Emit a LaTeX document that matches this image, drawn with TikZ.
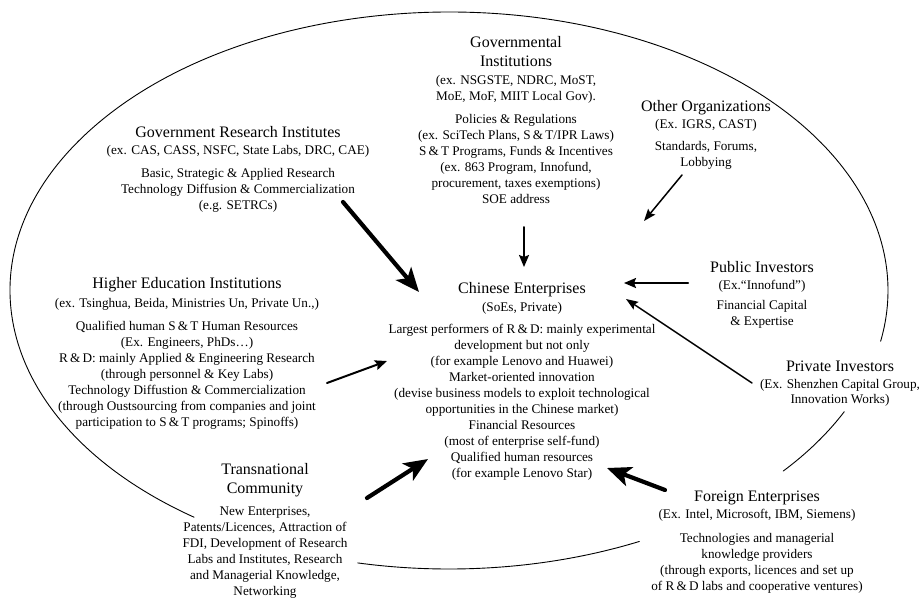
\documentclass[tikz,border=0pt]{standalone}
\usepackage{fontspec}
\setmainfont{Liberation Serif}
\usetikzlibrary{arrows.meta}
\newcommand{\blkhead}{\fontsize{16}{18}\selectfont}
\newcommand{\SnT}{S\,\&\,T}
\newcommand{\RnD}{R\,\&\,D}
\begin{document}
\begin{tikzpicture}[x=1pt, y=-1pt, line join=round, line cap=round,
	font=\fontsize{13.2}{16}\selectfont,
	blk/.style={align=center, anchor=north, inner sep=0pt},
	rim/.style={line width=0.9pt},
	heavy/.style={line width=4.2pt, -{Stealth[length=24pt, width=20pt, inset=6pt]}},
	medium/.style={line width=2pt, -{Stealth[length=12pt, width=10pt, inset=2pt]}},
	light/.style={line width=1.5pt, -{Stealth[length=12pt, width=9pt, inset=2pt]}}]
	\useasboundingbox (0,0) rectangle (920,597);
	\path (449,290.5) coordinate (O);
	% outline, broken where the outer blocks sit on it
	\foreach \s/\e in {125.5/370.5, 25.8/40.4, 64.3/102}
		\draw[rim] (O) ++(\s:439 and 278.5) arc[start angle=\s, end angle=\e, x radius=439, y radius=278.5];
	
	\node[blk] (gov) at (516,36) {{\blkhead Governmental}\\[3pt]{\blkhead Institutions}\\[2pt]
		(ex. NSGSTE, NDRC, MoST,\\ MoE, MoF, MIIT Local Gov).\\[7pt]
		Policies \& Regulations\\ (ex. SciTech Plans, \SnT/IPR Laws)\\
		\SnT\ Programs, Funds \& Incentives\\ (ex. 863 Program, Innofund,\\
		procurement, taxes exemptions)\\ SOE address};
	\node[blk] (gri) at (238,126) {{\blkhead Government Research Institutes}\\[1pt]
		(ex. CAS, CASS, NSFC, State Labs, DRC, CAE)\\[7pt]
		Basic, Strategic \& Applied Research\\ Technology Diffusion \& Commercialization\\ (e.g. SETRCs)};
	\node[blk] (oth) at (706,100) {{\blkhead Other Organizations}\\[1pt] (Ex. IGRS, CAST)\\[6pt]
		Standards, Forums,\\ Lobbying};
	\node[blk] (hei) at (187,277) {{\blkhead Higher Education Institutions}\\[3pt]
		(ex. Tsinghua, Beida, Ministries Un, Private Un.,)\\[7pt]
		Qualified human \SnT\ Human Resources\\ (Ex. Engineers, PhDs…)\\
		\RnD: mainly Applied \& Engineering Research\\ (through personnel \& Key Labs)\\
		Technology Diffustion \& Commercialization\\ (through Oustsourcing from companies and joint\\
		participation to \SnT\ programs; Spinoffs)};
	\node[blk] (ce) at (522,282) {{\blkhead Chinese Enterprises}\\[2pt] (SoEs, Private)\\[6pt]
		Largest performers of \RnD: mainly experimental\\ development but not only\\
		(for example Lenovo and Huawei)\\ Market-oriented innovation\\
		(devise business models to exploit technological\\ opportunities in the Chinese market)\\
		Financial Resources\\ (most of enterprise self-fund)\\ Qualified human resources\\
		(for example Lenovo Star)};
	\node[blk] (pub) at (762,261) {{\blkhead Public Investors}\\[1pt] (Ex.“Innofund”)\\[4pt]
		Financial Capital\\ \& Expertise};
	\node[blk] (priv) at (840,361) {{\blkhead Private Investors}\\[1pt]
		(Ex. Shenzhen Capital Group,\\[-1pt] Innovation Works)};
	\node[blk] (tc) at (265,463) {{\blkhead Transnational}\\[3pt]{\blkhead Community}\\[6pt]
		New Enterprises,\\ Patents/Licences, Attraction of\\ FDI, Development of Research\\
		Labs and Institutes, Research\\ and Managerial Knowledge,\\ Networking};
	\node[blk] (fe) at (757,491) {{\blkhead Foreign Enterprises}\\[1pt]
		(Ex. Intel, Microsoft, IBM, Siemens)\\[8pt]
		Technologies and managerial\\ knowledge providers\\
		(through exports, licences and set up\\ of \RnD\ labs and cooperative ventures)};
	
	\path (343,202) coordinate (gri-out) (419,292) coordinate (ce-gri)
		(367,498) coordinate (tc-out) (428,459) coordinate (ce-tc)
		(665,490) coordinate (fe-out) (607,468) coordinate (ce-fe)
		(524,227) coordinate (gov-out) (524,267) coordinate (ce-gov)
		(682,175) coordinate (oth-out) (644,221) coordinate (ce-oth)
		(688,283) coordinate (pub-out) (624,283) coordinate (ce-pub)
		(752,383) coordinate (priv-out) (626,299) coordinate (ce-priv)
		(327,383) coordinate (hei-out) (387,361) coordinate (ce-hei);
	\foreach \a/\b in {gri-out/ce-gri, tc-out/ce-tc, fe-out/ce-fe}
		\draw[heavy] (\a) -- (\b);
	\foreach \a/\b in {hei-out/ce-hei, pub-out/ce-pub, gov-out/ce-gov}
		\draw[medium] (\a) -- (\b);
	\foreach \a/\b in {oth-out/ce-oth, priv-out/ce-priv}
		\draw[light] (\a) -- (\b);
\end{tikzpicture}
\end{document}
